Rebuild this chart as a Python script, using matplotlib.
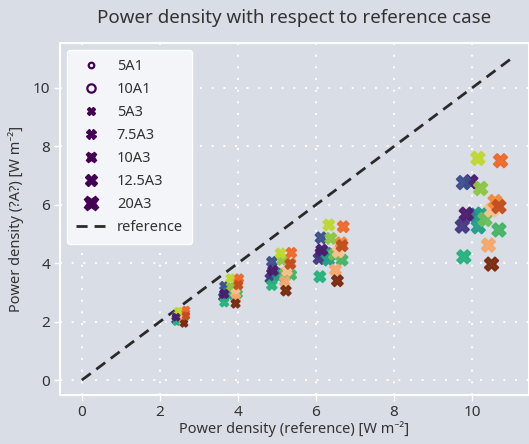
"""
Power density with respect to reference case.
"""

import matplotlib
matplotlib.use("Agg")
import matplotlib.pyplot as plt
from matplotlib.lines import Line2D


# One colour per series, same order in every cluster below.
colors = ["#4b1c6e", "#3d4f8c", "#453883", "#2b7a8e", "#20a189", "#1fa088",
          "#26b27d", "#44b464", "#6ac05a", "#8dc63f", "#bfd82f",
          "#fdc090", "#f6a86c", "#f38b3c", "#f0682a", "#c24e1e", "#7a2a0e",
          "#4b1c6e"]

# Clusters of points (reference power density, case power density).
x1 = [2.42, 2.41, 2.40, 2.45, 2.48, 2.47, 2.43, 2.62, 2.55, 2.50, 2.47,
      2.60, 2.60, 2.66, 2.67, 2.67, 2.62, 2.42]
y1 = [2.15, 2.23, 2.05, 2.10, 2.08, 2.03, 2.00, 2.12, 2.15, 2.25, 2.36,
      2.10, 2.00, 2.30, 2.40, 2.20, 1.94, 2.15]
x2 = [3.65, 3.65, 3.62, 3.72, 3.80, 3.78, 3.65, 4.00, 3.90, 3.82, 3.81,
      3.94, 3.95, 4.00, 4.03, 4.01, 3.94, 3.65]
y2 = [2.95, 3.22, 2.85, 3.00, 2.98, 2.90, 2.66, 2.95, 3.00, 3.20, 3.48,
      2.97, 2.80, 3.35, 3.48, 3.25, 2.62, 2.95]
x3 = [4.87, 4.87, 4.83, 5.00, 5.08, 5.05, 4.87, 5.37, 5.20, 5.13, 5.09,
      5.26, 5.20, 5.35, 5.37, 5.34, 5.23, 4.90]
y3 = [3.65, 4.05, 3.48, 3.65, 3.60, 3.55, 3.25, 3.60, 3.65, 4.11, 4.34,
      3.74, 3.38, 4.00, 4.36, 3.97, 3.06, 3.75]
x4 = [6.13, 6.13, 6.08, 6.27, 6.36, 6.32, 6.10, 6.67, 6.47, 6.38, 6.33,
      6.57, 6.50, 6.65, 6.70, 6.67, 6.55, 6.15]
y4 = [4.34, 4.87, 4.16, 4.34, 4.28, 4.11, 3.54, 4.11, 4.30, 4.85, 5.31,
      4.39, 3.77, 4.70, 5.25, 4.60, 3.40, 4.45]
x5 = [9.97, 9.78, 9.75, 10.10, 10.25, 10.16, 9.79, 10.69, 10.33, 10.22, 10.15,
      10.50, 10.42, 10.59, 10.73, 10.69, 10.50, 9.85]
y5 = [6.79, 6.76, 5.27, 5.65, 5.68, 5.25, 4.22, 5.14, 5.50, 6.56, 7.59,
      5.82, 4.62, 6.11, 7.51, 5.94, 3.97, 5.68]

legend_labels = ["5A1", "10A1", "5A3", "7.5A3", "10A3", "12.5A3", "20A3"]
legend_markers = ["o", "o", "X", "X", "X", "X", "X"]
legend_sizes = [4, 6, 5.5, 6.5, 7.5, 8.5, 10.5]

ref_line = [0, 11]

bg = "#d9dde6"
plt.rcParams["font.family"] = ["Noto Sans", "DejaVu Sans"]

fig = plt.figure(figsize=(5.29, 4.44), dpi=100, facecolor=bg)
ax = fig.add_axes([0.1134, 0.1104, 0.8866, 0.7928], facecolor=bg)

clusters = [(x1, y1, 24), (x2, y2, 36), (x3, y3, 50), (x4, y4, 64),
            (x5, y5, 95)]
for xs, ys, size in clusters:
    ax.scatter(xs, ys, c=colors, marker="X", s=size, linewidths=1.3,
               edgecolors=colors, alpha=0.95, zorder=3)

ax.plot(ref_line, ref_line, color="#2a2a2a", linestyle=(0, (4, 2.5)),
        linewidth=2.0, zorder=2)

ax.set_xlim(-0.56, 11.46)
ax.set_ylim(-0.51, 11.54)
ax.set_xticks([0, 2, 4, 6, 8, 10])
ax.set_yticks([0, 2, 4, 6, 8, 10])
ax.grid(True, color="white", linestyle=(0, (1, 5)), linewidth=1.4)
ax.set_axisbelow(True)
for s in ax.spines.values():
    s.set_color("white")
    s.set_linewidth(1.5)
ax.tick_params(colors="white", labelcolor="#333333", labelsize=11,
               length=4, width=1, pad=3)

ax.set_xlabel("Power density (reference) [W m\u207b\u00b2]", fontsize=10.5,
              color="#333333", labelpad=1)
ax.set_ylabel("Power density (?A?) [W m\u207b\u00b2]", fontsize=10.5,
              color="#333333", labelpad=6)
fig.suptitle("Power density with respect to reference case", fontsize=13.5,
             color="#333333", x=0.555, y=0.98)

# Legend
handles = []
for lab, mk, sz in zip(legend_labels, legend_markers, legend_sizes):
    if mk == "o":
        h = Line2D([], [], linestyle="none", marker=mk, markersize=sz,
                   markerfacecolor="none", markeredgecolor="#440154",
                   markeredgewidth=1.6, label=lab)
    else:
        h = Line2D([], [], linestyle="none", marker=mk, markersize=sz,
                   color="#440154", markeredgewidth=1.0, label=lab)
    handles.append(h)
handles.append(Line2D([], [], color="#2a2a2a", linestyle=(0, (4, 2.5)),
                      linewidth=2.0, label="reference"))
leg = ax.legend(handles=handles, loc="upper left", fontsize=10.5,
                frameon=True, facecolor="#f3f5f9", edgecolor="white",
                framealpha=1, borderpad=0.6, labelspacing=0.55,
                handlelength=2.0, bbox_to_anchor=(0.0, 1.0))
for t in leg.get_texts():
    t.set_color("#333333")

fig.savefig("out.png", dpi=100, facecolor=bg)
